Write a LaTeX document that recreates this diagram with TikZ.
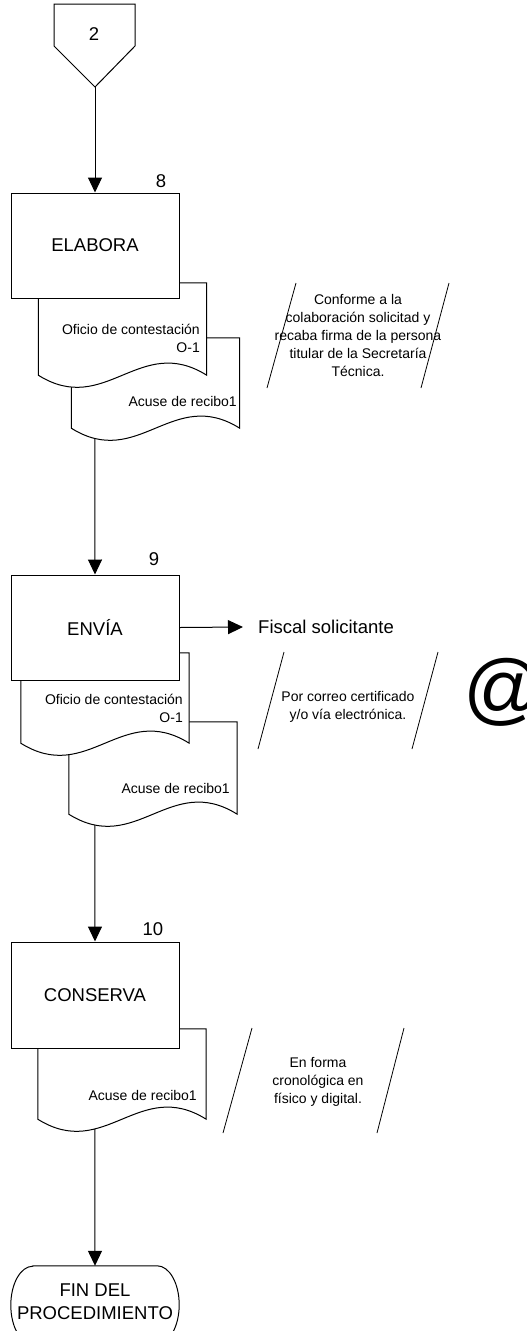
\documentclass[tikz,border=0pt]{standalone}
\usepackage{fontspec}
\setmainfont{Liberation Sans}
\usetikzlibrary{arrows.meta,calc}

\tikzset{
  base/.style={line width=1pt, draw=black},
  procbox/.style={base, fill=white, minimum width=168pt, minimum height=105pt,
    inner sep=0pt, font=\fontsize{18.5}{23}\selectfont},
  docnode/.style={minimum width=168pt, inner sep=0pt},
  doctext/.style={anchor=east, inner sep=0pt, align=right,
    font=\fontsize{14}{18}\selectfont},
  stepnum/.style={inner sep=0pt, font=\fontsize{18.5}{23}\selectfont},
  note/.style={inner sep=0pt, align=center, font=\fontsize{14}{18}\selectfont},
  noteline/.style={line width=0.8pt},
  flow/.style={line width=1pt, -{Triangle[length=15pt,width=14pt]}},
}

% document symbol: flat top, wavy bottom edge
\newcommand{\docoutline}[1]{%
  \draw[base, fill=white] (#1.north west) -- (#1.north east) -- (#1.south east)
    .. controls ($(#1.south east)+(-67,-42)$) and ($(#1.south west)+(67,42)$)
    .. (#1.south west) -- cycle;}

\begin{document}
\begin{tikzpicture}[x=1pt, y=-1pt]
  \useasboundingbox[fill=white] (0,0) rectangle (527,1331);

  % off-page connector
  \draw[base] (54,4) -- (135,4) -- (135,46) -- (95,87) -- (54,46) -- cycle;
  \coordinate (offtip) at (95,87);
  \node[stepnum] (off) at (94,34) {2};

  % ---- step 8 ----
  \node[docnode, minimum height=90pt] (e2) at (155.5,383) {};
  \node[docnode, minimum height=92pt] (e1) at (122.5,329) {};
  \docoutline{e2}
  \docoutline{e1}
  \node[procbox] (elabora) at (95,245.5) {ELABORA};
  \node[stepnum] (n8) at (161,181) {8};
  \node[doctext] (e1t) at (200,338) {Oficio de contestación\\O-1};
  \node[doctext] (e2t) at (237,401) {Acuse de recibo1};
  \coordinate (e2out) at ($(e2.south west)+(23.5,10)$);

  \draw[noteline] (296,283) -- (267,388);
  \draw[noteline] (449,283) -- (421,388);
  \node[note] (a1) at (358,335.5) {Conforme a la\\colaboración solicitad y\\recaba firma de la persona\\titular de la Secretaría\\Técnica.};

  % ---- step 9 ----
  \node[docnode, minimum height=92pt] (v2) at (153,768) {};
  \node[docnode, minimum height=90pt] (v1) at (105,698) {};
  \docoutline{v2}
  \docoutline{v1}
  \node[procbox] (envia) at (95,627.5) {ENVÍA};
  \node[stepnum] (n9) at (154,559) {9};
  \node[doctext] (v1t) at (183,708) {Oficio de contestación\\O-1};
  \node[doctext] (v2t) at (230,788) {Acuse de recibo1};
  \coordinate (v2out) at ($(v2.south west)+(26,11)$);

  \node[anchor=west, inner xsep=15pt, inner ysep=0pt,
        font=\fontsize{18.5}{23}\selectfont] (fiscal) at (243,627) {Fiscal solicitante};

  \draw[noteline] (284,652) -- (258,749);
  \draw[noteline] (438,652) -- (412,749);
  \node[note] (a2) at (348,706.5) {Por correo certificado\\y/o vía electrónica.};
  \node[anchor=base west, inner sep=0pt, font=\fontsize{79}{80}\selectfont] (mail) at (463,715.5) {@};

  % ---- step 10 ----
  \node[docnode, minimum height=90pt] (c1) at (122,1074) {};
  \docoutline{c1}
  \node[procbox, minimum height=106pt] (conserva) at (95,995) {CONSERVA};
  \node[stepnum] (n10) at (153,929) {10};
  \node[doctext] (c1t) at (197,1095) {Acuse de recibo1};
  \coordinate (c1out) at ($(c1.south west)+(57,10)$);

  \draw[noteline] (252,1028) -- (223,1133);
  \draw[noteline] (404,1028) -- (377,1133);
  \node[note] (a3) at (318,1082) {En forma\\cronológica en\\físico y digital.};

  % ---- terminator ----
  \node[minimum width=168pt, minimum height=78pt, inner sep=0pt] (fin) at (95,1305) {};
  \draw[base] ($(fin.north west)+(22,0)$) -- ($(fin.north east)+(-22,0)$)
    arc[start angle=90, end angle=-90, x radius=22pt, y radius=39pt]
    -- ($(fin.south west)+(22,0)$)
    arc[start angle=270, end angle=90, x radius=22pt, y radius=39pt] -- cycle;
  \node[inner sep=0pt, align=center, font=\fontsize{18.5}{23}\selectfont] (fintext)
    at ($(fin.center)+(0,-3.5)$) {FIN DEL\\PROCEDIMIENTO};

  % ---- connectors ----
  \draw[flow] (offtip) -- (elabora.north);
  \draw[flow] (e2out) -- (envia.north);
  \draw[flow] (envia.east) -- (fiscal.west);
  \draw[flow] (v2out) -- (conserva.north);
  \draw[flow] (c1out) -- (fin.north);
\end{tikzpicture}
\end{document}
